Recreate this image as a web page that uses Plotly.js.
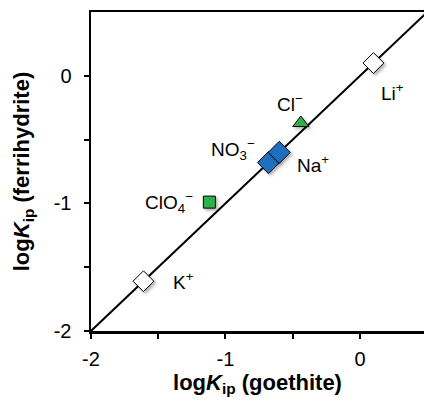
<!DOCTYPE html>
<html>
<head>
<meta charset="utf-8">
<script src="https://cdn.plot.ly/plotly-3.0.1.min.js"></script>
<style>html,body{margin:0;padding:0;background:#fff;}#chart{width:424px;height:404px;}</style>
</head>
<body>
<div id="chart"></div>
<script>
// Data
var ions = ['K<sup>+</sup>', 'Li<sup>+</sup>', 'Na<sup>+</sup>', 'NO<sub>3</sub><sup>−</sup>', 'Cl<sup>−</sup>', 'ClO<sub>4</sub><sup>−</sup>'];
var logKipGoethite = [-1.61, 0.10, -0.60, -0.68, -0.44, -1.12];
var logKipFerrihydrite = [-1.61, 0.10, -0.60, -0.68, -0.37, -0.99];
var oneToOneX = [-2, 0.5];
var oneToOneY = [-2, 0.5];
var xTickVals = [-2, -1.5, -1, -0.5, 0];
var xTickText = ['-2', '', '-1', '', '0'];
var yTickVals = [-2, -1.5, -1, -0.5, 0];
var yTickText = ['-2', '', '-1', '', '0'];

function pick(idx) {
  return {x: idx.map(function(i){return logKipGoethite[i];}), y: idx.map(function(i){return logKipFerrihydrite[i];})};
}

var FONT = 'Liberation Sans, Arial, sans-serif';
var lineTrace = {x: oneToOneX, y: oneToOneY, mode: 'lines', line: {color: '#000', width: 2}, hoverinfo: 'skip', showlegend: false};
var white = pick([0, 1]);
var no3 = pick([3]);
var na = pick([2]);
var cl = pick([4]);
var clo4 = pick([5]);
var traces = [
  lineTrace,
  {x: white.x, y: white.y, mode: 'markers', marker: {symbol: 'diamond', size: 16, color: '#ffffff', line: {color: '#000', width: 1}}, showlegend: false},
  {x: no3.x, y: no3.y, mode: 'markers', marker: {symbol: 'diamond', size: 17, color: '#1f6ebf', line: {color: '#000', width: 1}}, showlegend: false},
  {x: na.x, y: na.y, mode: 'markers', marker: {symbol: 'diamond', size: 17, color: '#1f6ebf', line: {color: '#000', width: 1}}, showlegend: false},
  {x: cl.x, y: cl.y, mode: 'markers', marker: {symbol: 'triangle-up', size: 14, color: '#2db04b', line: {color: '#000', width: 1}}, showlegend: false},
  {x: clo4.x, y: clo4.y, mode: 'markers', marker: {symbol: 'square', size: 12, color: '#2db04b', line: {color: '#000', width: 1}}, showlegend: false}
];

var shifts = [[40, 0], [19, -29], [34, -12], [-36, 13], [-11, 20], [-40, 0]];
var annotations = ions.map(function(t, i) {
  return {x: logKipGoethite[i], y: logKipFerrihydrite[i], xref: 'x', yref: 'y', text: t, showarrow: false,
    xshift: shifts[i][0], yshift: shifts[i][1], font: {family: FONT, size: 19, color: '#000'}};
});

var layout = {
  width: 424, height: 404,
  margin: {l: 91, r: 0, t: 12, b: 73},
  paper_bgcolor: '#fff', plot_bgcolor: '#fff',
  font: {family: FONT, color: '#000'},
  showlegend: false,
  xaxis: {
    range: [-2, 0.476], showgrid: false, zeroline: false,
    showline: true, linewidth: 2.5, linecolor: '#000', mirror: true,
    ticks: 'outside', ticklen: 5, tickwidth: 2, tickcolor: '#000',
    tickvals: xTickVals, ticktext: xTickText, ticklabelstandoff: 3,
    tickfont: {family: FONT, size: 20, color: '#000'},
    title: {text: '<b>log<i>K</i><sub>ip</sub> (goethite)</b>', font: {family: FONT, size: 22, color: '#000'}, standoff: 6}
  },
  yaxis: {
    range: [-2, 0.5], showgrid: false, zeroline: false,
    showline: true, linewidth: 2.5, linecolor: '#000',
    ticks: 'outside', ticklen: 5, tickwidth: 2, tickcolor: '#000',
    tickvals: yTickVals, ticktext: yTickText, ticklabelstandoff: 8,
    tickfont: {family: FONT, size: 20, color: '#000'},
    title: {text: '<b>log<i>K</i><sub>ip</sub> (ferrihydrite)</b>', font: {family: FONT, size: 22, color: '#000'}, standoff: 18}
  },
  annotations: annotations
};

Plotly.newPlot('chart', traces, layout, {staticPlot: true, displayModeBar: false}).then(function(gd) {
  gd.querySelectorAll('.scatterlayer .point').forEach(function(p) {
    p.style.filter = 'drop-shadow(2px 2px 1.5px rgba(0,0,0,0.3))';
  });
});
</script>
</body>
</html>
